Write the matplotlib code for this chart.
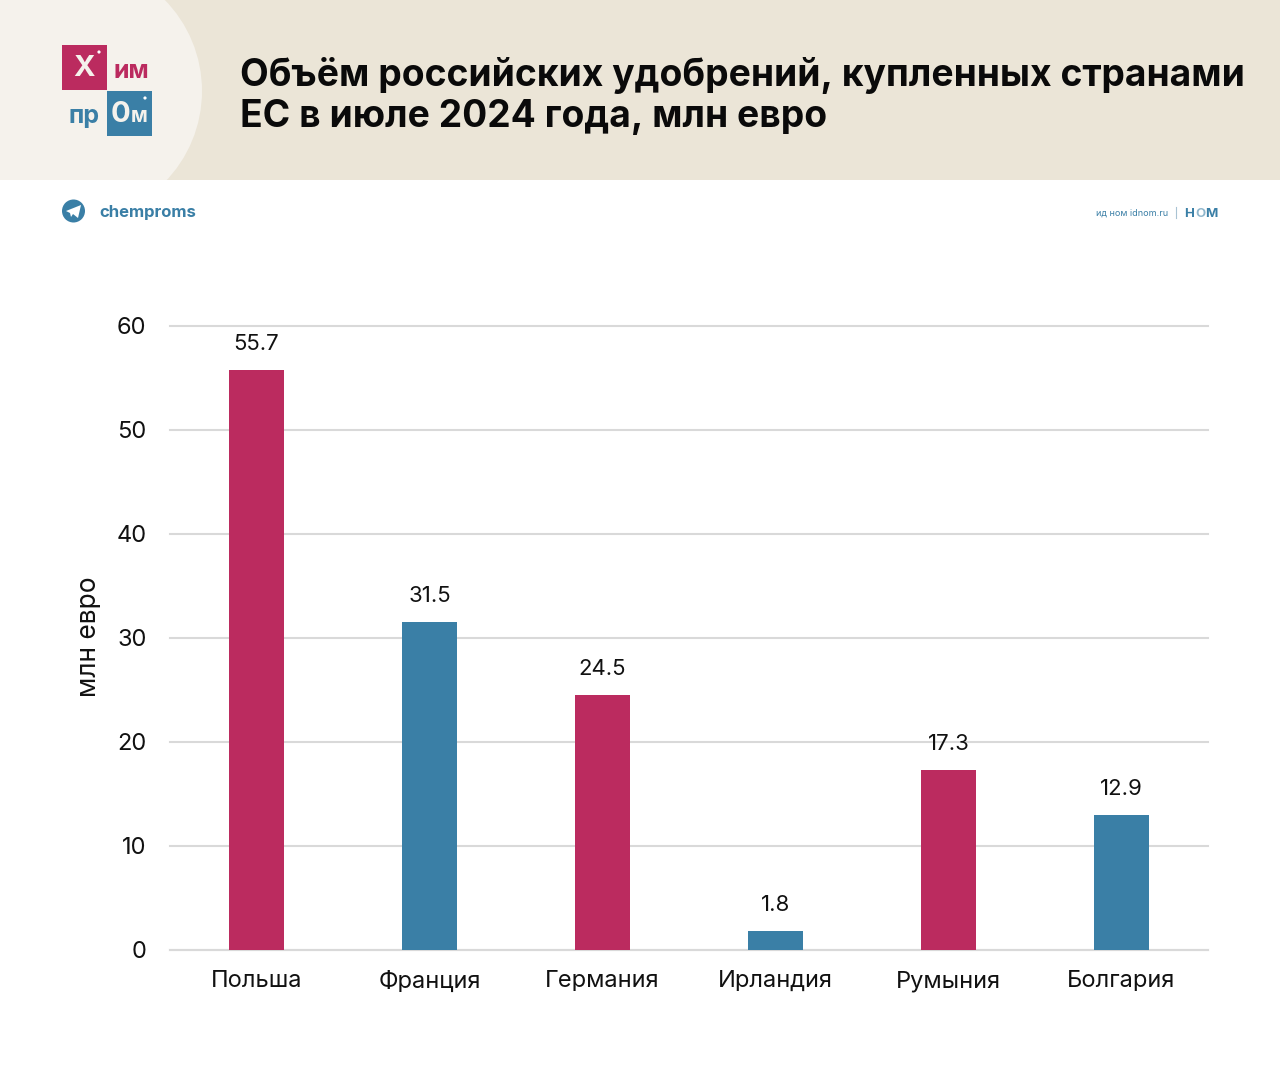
#!/usr/bin/env python3
"""Russian fertilizer purchases by EU countries, July 2024."""
import matplotlib
matplotlib.use('Agg')
import matplotlib.pyplot as plt
from matplotlib.patches import Circle, Polygon, Rectangle

countries = ['Польша', 'Франция', 'Германия', 'Ирландия', 'Румыния', 'Болгария']
values = [55.7, 31.5, 24.5, 1.8, 17.3, 12.9]
value_labels = ['55.7', '31.5', '24.5', '1.8', '17.3', '12.9']
y_ticks = [0, 10, 20, 30, 40, 50, 60]

CRIMSON = '#bb2b5f'
BLUE = '#3a7fa6'
BEIGE = '#ebe5d7'
CREAM = '#f5f2ec'
bar_colors = [CRIMSON, BLUE, CRIMSON, BLUE, CRIMSON, BLUE]

W, H = 1280, 1079
plt.rcParams['font.family'] = ['Inter', 'DejaVu Sans']
fig = plt.figure(figsize=(W / 100, H / 100), dpi=100, facecolor='white')

# page decorations in pixel coordinates
bg = fig.add_axes([0, 0, 1, 1], zorder=0)
bg.set_xlim(0, W)
bg.set_ylim(H, 0)
bg.axis('off')

banner = Rectangle((0, 0), W, 180, color=BEIGE, lw=0)
bg.add_patch(banner)
circle = Circle((72, 91), 130, color=CREAM, lw=0)
bg.add_patch(circle)
circle.set_clip_path(banner)

bg.text(240, 75, 'Объём российских удобрений, купленных странами', fontsize=26.8,
        fontweight='bold', color='#0a0a0a', va='center', ha='left')
bg.text(240, 117, 'ЕС в июле 2024 года, млн евро', fontsize=26.8,
        fontweight='bold', color='#0a0a0a', va='center', ha='left')

# logo
bg.add_patch(Rectangle((62, 45), 45, 45, color=CRIMSON, lw=0))
bg.add_patch(Rectangle((107, 91), 45, 45, color=BLUE, lw=0))
bg.add_patch(Circle((99, 52), 1.6, color='white', lw=0))
bg.add_patch(Circle((145, 98), 1.6, color='white', lw=0))
bg.text(84.5, 68, 'Х', color=CREAM, fontsize=21, fontweight='bold', ha='center', va='center')
bg.text(131, 71, 'им', color=CRIMSON, fontsize=18, fontweight='bold', ha='center', va='center')
bg.text(84, 116, 'пр', color=BLUE, fontsize=18, fontweight='bold', ha='center', va='center')
bg.text(120, 114, '0', color=CREAM, fontsize=21, fontweight='bold', ha='center', va='center')
bg.text(139, 116, 'м', color=CREAM, fontsize=15, fontweight='bold', ha='center', va='center')

# telegram row
bg.add_patch(Circle((73.5, 211), 11.5, color=BLUE, lw=0))
bg.add_patch(Polygon([(66, 211), (81, 205), (78, 218), (73, 214), (71, 217), (70, 213)],
                     closed=True, color='white', lw=0))
bg.text(99, 212.5, 'chemproms', color=BLUE, fontsize=12, fontweight='bold', ha='left', va='center')

# publisher mark
bg.text(1168, 213, 'ид ном idnom.ru', color=BLUE, fontsize=6.5, ha='right', va='center')
bg.plot([1176, 1176], [207, 218], color='#a9c3d3', lw=0.8)
bg.text(1184, 214, 'Н', color=BLUE, fontsize=9.5, fontweight='bold', ha='left', va='center')
bg.text(1201, 214, 'О', color='#8fb6cc', fontsize=9.5, fontweight='bold', ha='center', va='center')
bg.text(1218, 214, 'М', color=BLUE, fontsize=9.5, fontweight='bold', ha='right', va='center')

# chart
ax = fig.add_axes([170 / W, 1 - 949.5 / H, (1208 - 170) / W, (949.5 - 325.5) / H], zorder=1)
ax.patch.set_alpha(0)
positions = list(range(len(countries)))
ax.bar(positions, values, width=0.315, color=bar_colors, zorder=3)
for x, v, label in zip(positions, values, value_labels):
    ax.annotate(label, (x, v), xytext=(0, 16), textcoords='offset pixels',
                ha='center', va='bottom', fontsize=16, color='#111111')

ax.set_xlim(-0.5, 5.5)
ax.set_ylim(0, 60)
ax.set_yticks(y_ticks)
ax.set_xticks(positions)
ax.set_xticklabels(countries, fontsize=17, color='#111111')
ax.tick_params(axis='y', length=0, pad=17, labelsize=17, labelcolor='#111111')
ax.tick_params(axis='x', length=0, pad=15)
ax.grid(axis='y', color='#d9d9d9', lw=1.5, zorder=0)
ax.set_axisbelow(True)
for side in ['top', 'right', 'left']:
    ax.spines[side].set_visible(False)
ax.spines['bottom'].set_color('#d9d9d9')
ax.spines['bottom'].set_linewidth(1.5)
for gl in ax.get_ygridlines():
    gl.set_clip_on(False)

bg.text(89, 637, 'млн евро', rotation=90, fontsize=19, color='#111111', ha='center', va='center')

fig.savefig('out.png', dpi=100)
